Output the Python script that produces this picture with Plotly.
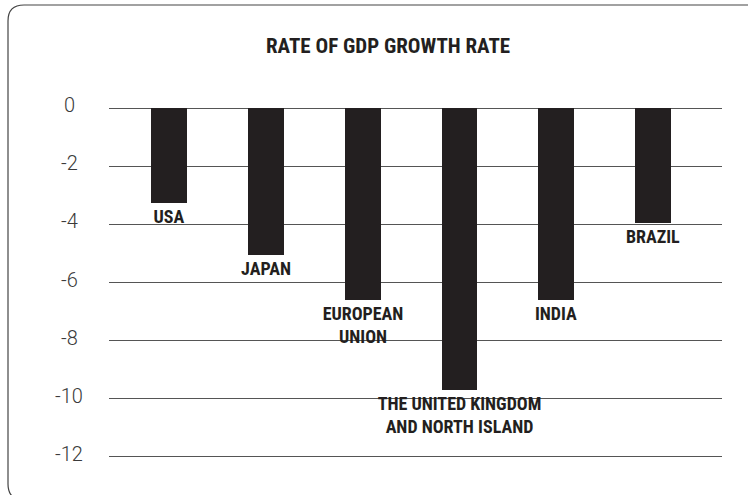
import plotly.graph_objects as go

categories = ["USA", "JAPAN", "EUROPEAN<br>UNION", "THE UNITED KINGDOM<br>AND NORTH ISLAND", "INDIA", "BRAZIL"]
growth = [-3.25, -5.05, -6.6, -9.7, -6.6, -3.95]
tick_vals = [0, -2, -4, -6, -8, -10, -12]
tick_text = ["0", "-2", "-4", "-6", "-8", "-10", "-12"]
title_text = "RATE OF GDP GROWTH RATE"

W, H = 748, 495
L, R, T, B = 109, 722, 91, 21
cond = "Roboto Condensed, Liberation Sans Narrow, DejaVu Sans Condensed, Roboto, sans-serif"

xpos = list(range(len(categories)))

fig = go.Figure()
fig.add_trace(go.Bar(
    x=xpos, y=growth, width=0.37,
    marker=dict(color="#231f20", line=dict(width=0)),
    text=categories, textposition="outside", constraintext="none", cliponaxis=False,
    outsidetextfont=dict(family=cond, size=18, color="#231f20", weight="bold"),
    textangle=0, hoverinfo="skip",
))

pl = lambda px: (px - L) / (R - L)
pt = lambda py: 1 - (py - T) / (H - T - B)

# tick labels as centered annotations left of the plot
for v, t in zip(tick_vals, tick_text):
    fig.add_annotation(x=pl(69), xref="paper", y=v, yref="y",
                       text=t, showarrow=False, xanchor="center", yanchor="middle",
                       font=dict(family="Roboto", size=20, color="#3a3a3a", weight=300), yshift=3)

fig.add_annotation(x=pl(388), xref="paper", y=pt(46), yref="paper", text=title_text,
                   showarrow=False, xanchor="center", yanchor="middle",
                   font=dict(family=cond, size=21, color="#231f20", weight="bold"))

# rounded border
x0, y0, x1, y1, r = 8, 5, 760, 500, 16
path = (f"M {pl(x0+r)},{pt(y0)} L {pl(x1)},{pt(y0)} L {pl(x1)},{pt(y1)} L {pl(x0+r)},{pt(y1)} "
        f"Q {pl(x0)},{pt(y1)} {pl(x0)},{pt(y1-r)} "
        f"L {pl(x0)},{pt(y0+r)} Q {pl(x0)},{pt(y0)} {pl(x0+r)},{pt(y0)} Z")
fig.add_shape(type="path", path=path, xref="paper", yref="paper",
              line=dict(color="#444444", width=1.2), layer="below")

fig.update_layout(
    width=W, height=H,
    margin=dict(l=L, r=W - R, t=T, b=B),
    plot_bgcolor="white", paper_bgcolor="white",
    showlegend=False,
    xaxis=dict(range=[-0.62, 5.71], showticklabels=False, showgrid=False, zeroline=False, ticks=""),
    yaxis=dict(range=[-12.6, 0.6], tickvals=tick_vals, showticklabels=False,
               showgrid=True, gridcolor="#555555", gridwidth=1, zeroline=False),
    bargap=0,
)

fig.write_html("out.html", config={"displayModeBar": False},
               post_script="document.body.style.margin='0';document.body.style.overflow='hidden';")
